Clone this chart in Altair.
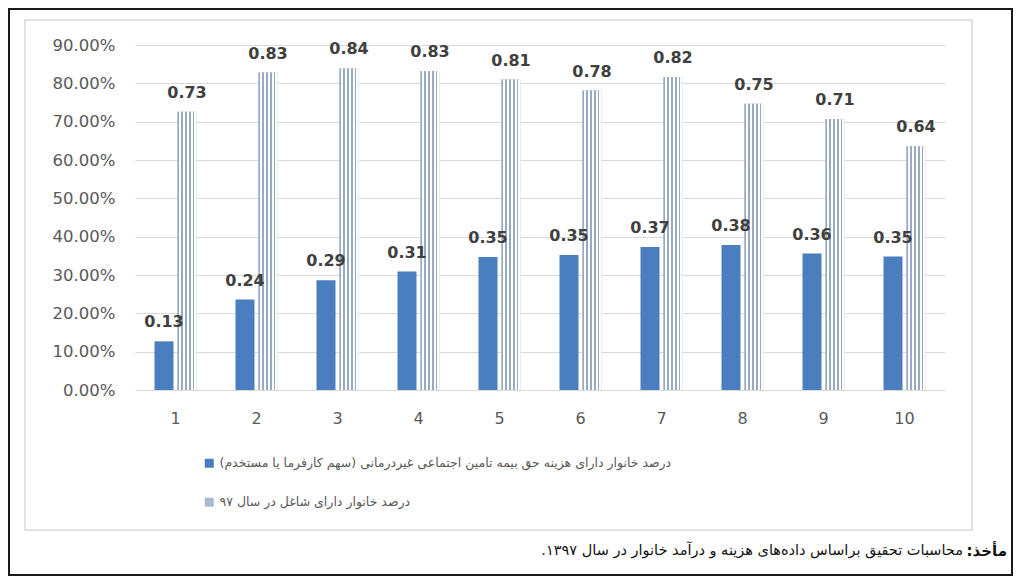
import altair as alt
import pandas as pd

# ---------------- data ----------------
categories = [1, 2, 3, 4, 5, 6, 7, 8, 9, 10]
insured_share = [0.127, 0.236, 0.286, 0.309, 0.347, 0.352, 0.373, 0.378, 0.356, 0.348]
employed_share = [0.726, 0.828, 0.839, 0.832, 0.810, 0.781, 0.816, 0.747, 0.706, 0.636]
series_names = [
    "درصد خانوار دارای هزینه حق بیمه تامین اجتماعی غیردرمانی (سهم کارفرما یا مستخدم)",
    "درصد خانوار دارای شاغل در سال ۹۷",
]
y_ticks = [0.0, 0.1, 0.2, 0.3, 0.4, 0.5, 0.6, 0.7, 0.8, 0.9]
source_label = "مأخذ:"
source_text = "محاسبات تحقیق براساس داده‌های هزینه و درآمد خانوار در سال ۱۳۹۷."

rows = []
for c, a, b in zip(categories, insured_share, employed_share):
    rows.append({"cat": c, "series": series_names[0], "value": a})
    rows.append({"cat": c, "series": series_names[1], "value": b})
df = pd.DataFrame(rows)
df_hatch = df[df["series"] == series_names[1]]
one = pd.DataFrame({"k": [0]})

# ---------------- style ----------------
BLUE = "#4a7ebf"
LIGHT = "#a9bacd"
STRIPE = "#97aac0"
GRAY_TXT = "#595959"
FONT = "DejaVu Sans"
RLM = "\u200f"

n_stripes = 5
stops = []
for i in range(n_stripes):
    a = i / n_stripes
    b = (i + 0.45) / n_stripes
    c = (i + 1) / n_stripes
    stops += [
        {"offset": a, "color": STRIPE},
        {"offset": b, "color": STRIPE},
        {"offset": b, "color": "#ffffff"},
        {"offset": c, "color": "#ffffff"},
    ]
hatch_fill = {"gradient": "linear", "x1": 0, "y1": 0, "x2": 1, "y2": 0, "stops": stops}


def x_enc():
    return alt.X(
        "cat:O",
        title=None,
        scale=alt.Scale(paddingInner=0.4815, paddingOuter=0.2407),
        axis=alt.Axis(
            labelAngle=0, labelFont=FONT, labelFontSize=16, labelColor=GRAY_TXT,
            labelPadding=20, ticks=False, domain=False, grid=False,
        ),
    )


def xo_enc():
    return alt.XOffset(
        "series:N",
        scale=alt.Scale(domain=series_names, paddingInner=0.174, paddingOuter=0),
    )


def y_enc():
    return alt.Y(
        "value:Q",
        title=None,
        scale=alt.Scale(domain=[0, 0.9], nice=False),
        axis=alt.Axis(
            values=y_ticks, tickCount=10, format=".2%", labelFont=FONT,
            labelFontSize=16.5, labelColor=GRAY_TXT, labelPadding=20,
            ticks=False, domain=False, gridColor="#d9d9d9", gridWidth=1,
            labelOverlap=False,
        ),
    )


bars = alt.Chart(df).mark_bar().encode(
    x=x_enc(),
    xOffset=xo_enc(),
    y=y_enc(),
    fill=alt.Fill(
        "series:N",
        scale=alt.Scale(domain=series_names, range=[BLUE, LIGHT]),
        legend=alt.Legend(
            orient="none", legendX=68, legendY=412, title=None,
            direction="vertical", symbolType="square", symbolSize=81,
            symbolStrokeWidth=0, labelFont=FONT, labelFontSize=12.5,
            labelColor=GRAY_TXT, rowPadding=26, padding=0, labelLimit=700,
            labelOffset=4,
            labelExpr="'" + RLM + "' + datum.label + '" + RLM + "'",
        ),
    ),
)

hatch = alt.Chart(df_hatch).mark_bar(fill=hatch_fill).encode(
    x=x_enc(),
    xOffset=xo_enc(),
    y=y_enc(),
)

labels = alt.Chart(df).mark_text(
    font=FONT, fontSize=16, fontWeight="bold", color="#404040",
    baseline="alphabetic", align="center", dy=-14,
).encode(
    x=x_enc(),
    xOffset=xo_enc(),
    y=y_enc(),
    text=alt.Text("value:Q", format=".2f"),
)

outer_frame = alt.Chart(one).mark_rect(
    fillOpacity=0, stroke="#1a1a1a", strokeWidth=2
).encode(
    x=alt.value(-126), x2=alt.value(877), y=alt.value(-36), y2=alt.value(530)
)
inner_frame = alt.Chart(one).mark_rect(
    fillOpacity=0, stroke="#d9d9d9", strokeWidth=1.5
).encode(
    x=alt.value(-110), x2=alt.value(837), y=alt.value(-25), y2=alt.value(485)
)

src_bold = alt.Chart(one).mark_text(
    font=FONT, fontSize=15, fontWeight="bold", color="#111111",
    align="right", baseline="middle",
).encode(
    x=alt.value(872), y=alt.value(506), text=alt.value(source_label + RLM)
)
src_text = alt.Chart(one).mark_text(
    font=FONT, fontSize=14.5, color="#111111", align="right", baseline="middle",
).encode(
    x=alt.value(828), y=alt.value(506), text=alt.value(RLM + source_text + RLM)
)

chart = alt.layer(
    inner_frame, outer_frame, bars, hatch, labels, src_bold, src_text
).properties(
    width=810,
    height=345,
    autosize=alt.AutoSizeParams(type="none"),
    padding={"left": 127, "top": 37, "right": 73, "bottom": 186},
    background="white",
).configure_view(stroke=None)

chart.save("out.html", embed_options={"renderer": "svg", "actions": False})
